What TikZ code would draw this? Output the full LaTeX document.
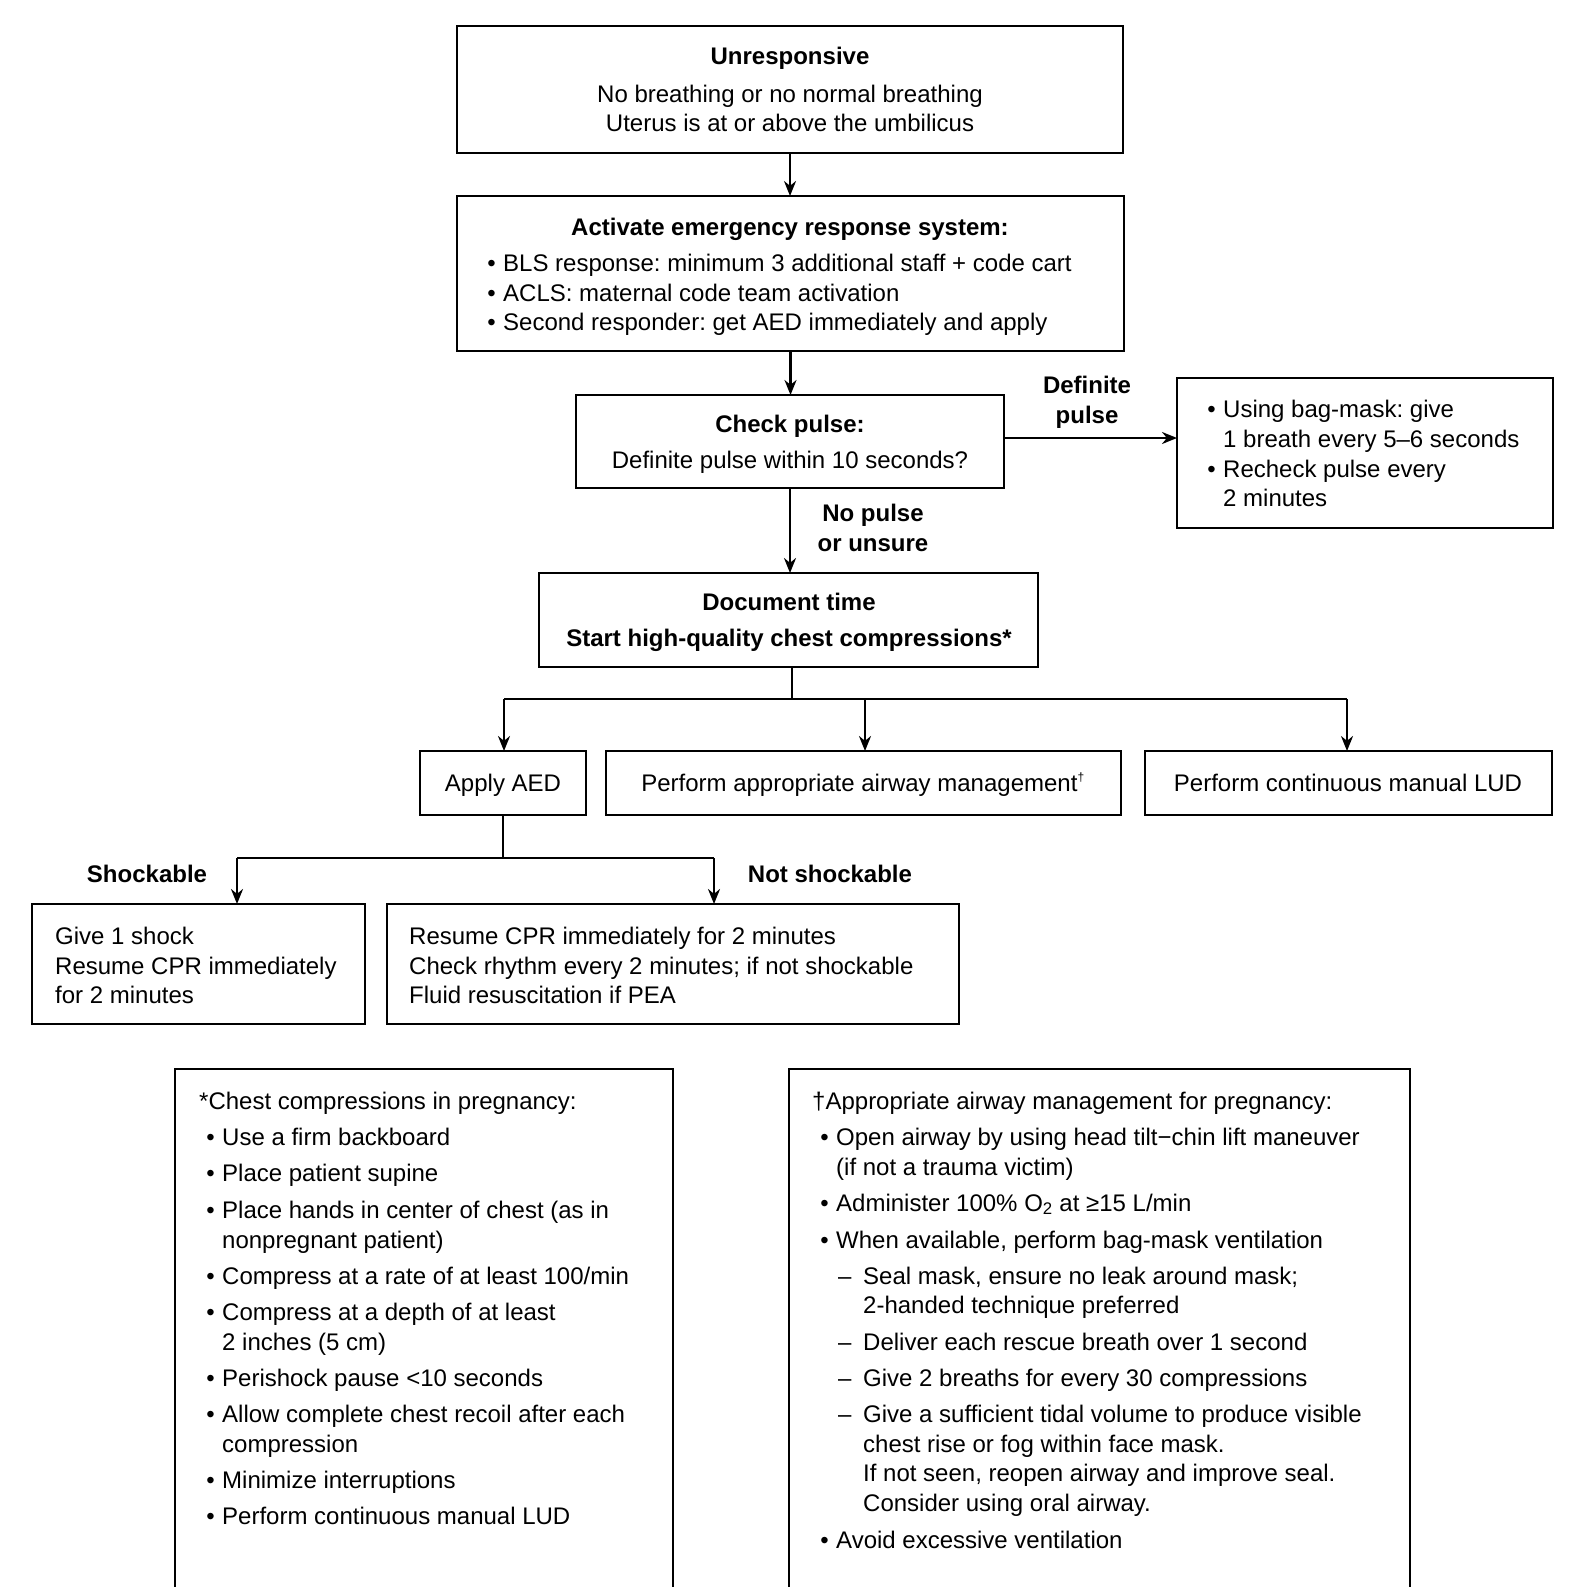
\documentclass[tikz,border=0pt]{standalone}
\usepackage{fontspec}
\setmainfont{Liberation Sans}
\usetikzlibrary{arrows.meta}
\frenchspacing
\newcounter{tn}
\newcommand\tl[3]{\stepcounter{tn}\node[txt,anchor=base west] (t\thetn) at (#1,#2+8) {#3};}
\newcommand\tc[3]{\stepcounter{tn}\node[txt,anchor=base] (t\thetn) at (#1,#2+8) {#3};}
\newcommand\bl[4]{\stepcounter{tn}\node[txt,anchor=base east] (b\thetn) at (#2-7,#3+8) {•};\tl{#2}{#3}{#4}}
\newcommand\mybox[5]{\node[box,minimum width={#4-#2},minimum height={#5-#3}] (#1) at ({(#2+#4)/2},{(#3+#5)/2}) {};}
\begin{document}
\begin{tikzpicture}[x=1pt,y=-1pt,
  box/.style={draw,line width=1.4pt,inner sep=0,outer sep=0},
  txt/.style={inner sep=0,font=\fontsize{24}{28}\selectfont},
  conn/.style={line width=2.4pt,-{Stealth[length=15pt,width=12pt]}},
  seg/.style={line width=2.4pt}]
\fill[white] (0,0) rectangle (1587,1587);
% boxes
\mybox{A}{457}{26}{1123}{153}
\mybox{B}{457}{196}{1124}{351}
\mybox{C}{576}{395}{1004}{488}
\mybox{D}{1177}{378}{1553}{528}
\mybox{E}{539}{573}{1038}{667}
\mybox{F}{420}{751}{586}{815}
\mybox{G}{606}{751}{1121}{815}
\mybox{H}{1145}{751}{1552}{815}
\mybox{I}{32}{904}{365}{1024}
\mybox{J}{387}{904}{959}{1024}
\draw[line width=1.4pt] (175,1587)--(175,1069)--(673,1069)--(673,1587);
\draw[line width=1.4pt] (789,1587)--(789,1069)--(1410,1069)--(1410,1587);
% texts
\tc{790}{57}{\textbf{Unresponsive}}
\tc{790}{94}{No breathing or no normal breathing}
\tc{790}{123}{Uterus is at or above the umbilicus}
\tc{790}{227}{\textbf{Activate emergency response system:}}
\bl{478}{503}{263}{BLS response: minimum 3 additional staff + code cart}
\bl{478}{503}{293}{ACLS: maternal code team activation}
\bl{478}{503}{322}{Second responder: get AED immediately and apply}
\tc{790}{424}{\textbf{Check pulse:}}
\tc{790}{460}{Definite pulse within 10 seconds?}
\bl{1198}{1223}{409}{Using bag-mask: give}
\tl{1223}{439}{1 breath every 5–6 seconds}
\bl{1198}{1223}{469}{Recheck pulse every}
\tl{1223}{498}{2 minutes}
\tc{1087}{385}{\textbf{Definite}}
\tc{1087}{415}{\textbf{pulse}}
\tc{873}{513}{\textbf{No pulse}}
\tc{873}{543}{\textbf{or unsure}}
\tc{789}{602}{\textbf{Document time}}
\tc{789}{638}{\textbf{Start high-quality chest compressions*}}
\tc{503}{783}{Apply AED}
\tc{863}{783}{Perform appropriate airway management\textsuperscript{\fontsize{12}{12}\selectfont †}}
\tc{1348}{783}{Perform continuous manual LUD}
\tc{147}{874}{\textbf{Shockable}}
\tc{830}{874}{\textbf{Not shockable}}
\tl{55}{936}{Give 1 shock}
\tl{55}{966}{Resume CPR immediately}
\tl{55}{995}{for 2 minutes}
\tl{409}{936}{Resume CPR immediately for 2 minutes}
\tl{409}{966}{Check rhythm every 2 minutes; if not shockable}
\tl{409}{995}{Fluid resuscitation if PEA}
% left bottom
\tl{199}{1101}{*Chest compressions in pregnancy:}
\bl{199}{222}{1137}{Use a firm backboard}
\bl{199}{222}{1173}{Place patient supine}
\bl{199}{222}{1210}{Place hands in center of chest (as in}
\tl{222}{1240}{nonpregnant patient)}
\bl{199}{222}{1276}{Compress at a rate of at least 100/min}
\bl{199}{222}{1312}{Compress at a depth of at least}
\tl{222}{1342}{2 inches (5 cm)}
\bl{199}{222}{1378}{Perishock pause <10 seconds}
\bl{199}{222}{1414}{Allow complete chest recoil after each}
\tl{222}{1444}{compression}
\bl{199}{222}{1480}{Minimize interruptions}
\bl{199}{222}{1516}{Perform continuous manual LUD}
% right bottom
\tl{812}{1101}{†Appropriate airway management for pregnancy:}
\bl{812}{836}{1137}{Open airway by using head tilt−chin lift maneuver}
\tl{836}{1167}{(if not a trauma victim)}
\bl{812}{836}{1203}{Administer 100\% O\textsubscript{2} at ≥15 L/min}
\bl{812}{836}{1240}{When available, perform bag-mask ventilation}
\tl{838}{1276}{–}\tl{863}{1276}{Seal mask, ensure no leak around mask;}
\tl{863}{1305}{2-handed technique preferred}
\tl{838}{1342}{–}\tl{863}{1342}{Deliver each rescue breath over 1 second}
\tl{838}{1378}{–}\tl{863}{1378}{Give 2 breaths for every 30 compressions}
\tl{838}{1414}{–}\tl{863}{1414}{Give a sufficient tidal volume to produce visible}
\tl{863}{1444}{chest rise or fog within face mask.}
\tl{863}{1473}{If not seen, reopen airway and improve seal.}
\tl{863}{1503}{Consider using oral airway.}
\bl{812}{836}{1540}{Avoid excessive ventilation}
% connectors
\draw[conn] (A.south) -- (A.south |- B.north);
\draw[conn] (B.south) -- (B.south |- C.north);
\draw[conn] (C.east |- 0,438) -- (D.west |- 0,438);
\draw[conn] (C.south) -- (C.south |- E.north);
\coordinate (br) at (792,699);
\coordinate (brL) at (504,699);
\coordinate (brM) at (865,699);
\coordinate (brR) at (1347,699);
\draw[seg] (E.south -| br) -- (br);
\draw[seg] (brL) -- (brR);
\draw[conn] (brL) -- (brL |- F.north);
\draw[conn] (brM) -- (brM |- G.north);
\draw[conn] (brR) -- (brR |- H.north);
\coordinate (ab) at (503,858);
\coordinate (abL) at (237,858);
\coordinate (abR) at (714,858);
\draw[seg] (F.south -| ab) -- (ab);
\draw[seg] (abL) -- (abR);
\draw[conn] (abL) -- (abL |- I.north);
\draw[conn] (abR) -- (abR |- J.north);
\pgfresetboundingbox
\useasboundingbox (0,0) rectangle (1587,1587);
\end{tikzpicture}
\end{document}
